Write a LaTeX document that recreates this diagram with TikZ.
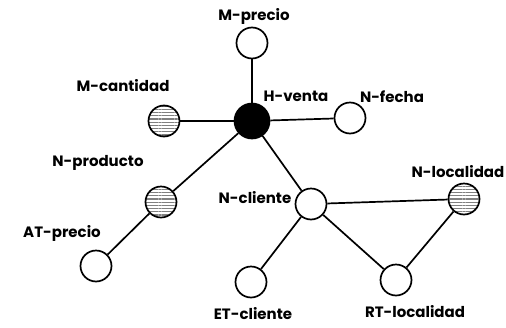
\documentclass[tikz,border=0pt]{standalone}
\usepackage{fontspec}
\setmainfont{Poppins}
\usetikzlibrary{patterns.meta}

\tikzset{
    nivel/.style={circle, draw, line width=1.7pt, minimum size=31pt, inner sep=0pt, fill=white},
    hecho/.style={nivel, fill=black, minimum size=35pt},
    rayado/.style={nivel, pattern={Lines[angle=0,distance=3.2pt,line width=1.3pt]}, pattern color=gray},
    rotulo/.style={font=\bfseries\fontsize{15}{17}\selectfont, inner sep=0pt},
    arista/.style={line width=1.7pt}
}

\begin{document}
\begin{tikzpicture}[x=1pt, y=-1pt]
            \useasboundingbox (0,0) rectangle (506,327);
            % nodos
            \node[hecho]  (hventa)     at (252,121) {};
            \node[nivel]  (mprecio)    at (252,43)  {};
            \node[rayado] (mcantidad)  at (164,121) {};
            \node[nivel]  (nfecha)     at (350,118) {};
            \node[rayado] (nproducto)  at (161,202) {};
            \node[nivel]  (atprecio)   at (96,266)  {};
            \node[nivel]  (ncliente)   at (311,204) {};
            \node[rayado] (nlocalidad) at (464,199) {};
            \node[nivel]  (etcliente)  at (251,282) {};
            \node[nivel]  (rtlocalidad) at (396,280) {};
            % rotulos
            \node[rotulo] (tmprecio)    at (254,16)  {M-precio};
            \node[rotulo] (tmcantidad)  at (123,86)  {M-cantidad};
            \node[rotulo] (thventa)     at (296,96)  {H-venta};
            \node[rotulo] (tnfecha)     at (392,97)  {N-fecha};
            \node[rotulo] (tnproducto)  at (98,163)  {N-producto};
            \node[rotulo] (tatprecio)   at (62,233)  {AT-precio};
            \node[rotulo] (tncliente)   at (255,198) {N-cliente};
            \node[rotulo] (tnlocalidad) at (458,172) {N-localidad};
            \node[rotulo] (tetcliente)  at (253,314) {ET-cliente};
            \node[rotulo] (trtlocalidad) at (415,312) {RT-localidad};
            % aristas
            \draw[arista] (hventa) -- (mprecio);
            \draw[arista] (hventa) -- (mcantidad);
            \draw[arista] (hventa) -- (nfecha);
            \draw[arista] (hventa) -- (nproducto);
            \draw[arista] (hventa) -- (ncliente);
            \draw[arista] (nproducto) -- (atprecio);
            \draw[arista] (ncliente) -- (nlocalidad);
            \draw[arista] (ncliente) -- (etcliente);
            \draw[arista] (ncliente) -- (rtlocalidad);
            \draw[arista] (rtlocalidad) -- (nlocalidad);
        \end{tikzpicture}
\end{document}
